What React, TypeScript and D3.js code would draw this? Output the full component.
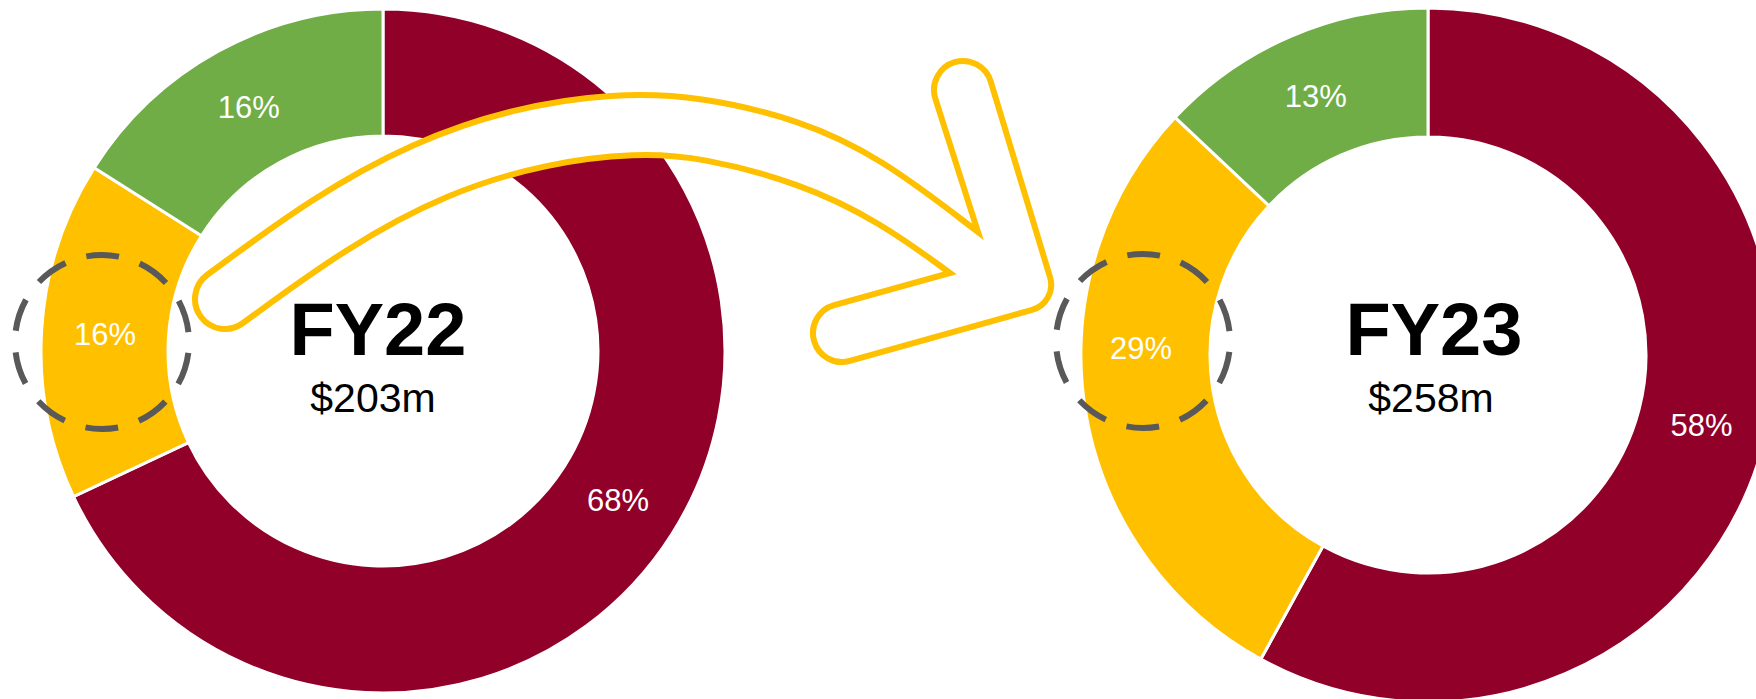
import React, { useEffect } from 'react';
import * as d3 from 'd3';

// ---------- data ----------
const segments = ['Segment 1', 'Segment 2', 'Segment 3'];
const segmentColors = ['#910029', '#FFC000', '#70AD47'];
const years = ['FY22', 'FY23'];
const totals = ['$203m', '$258m'];
const fy22Shares = [68, 16, 16];
const fy23Shares = [58, 29, 13];
const highlightedSegment = 1;

// ---------- layout ----------
const W = 1756;
const H = 699;
const FONT = '"Liberation Sans", Arial, Helvetica, sans-serif';

const donutLayout = [
  { cx: 383, cy: 351, rOuter: 342, rInner: 215, titleX: 378, totalX: 373, ring: { x: 102, y: 342 }, labelAt: null as null | { x: number; y: number } },
  { cx: 1428, cy: 355, rOuter: 347, rInner: 218, titleX: 1434, totalX: 1431, ring: { x: 1143, y: 341 }, labelAt: { x: 1141, y: 347.5 } },
];
const ringR = 87;

type Pt = [number, number];
const arrowOuter: Pt[] = [[207, 275], [313, 197], [413, 142], [513, 108], [613, 93], [700, 96], [800, 120], [880, 157], [978, 232]];
const arrowInner: Pt[] = [[243, 323], [347, 247], [447, 193], [547, 163], [637, 153], [700, 157], [800, 183], [880, 222], [950, 273]];

function norm(x: number, y: number): Pt {
  const l = Math.hypot(x, y);
  return [x / l, y / l];
}

function buildArrow(): string {
  const p = d3.path();
  const curve = (pts: Pt[]) => {
    const ctx: any = {
      moveTo: (x: number, y: number) => p.lineTo(x, y),
      lineTo: (x: number, y: number) => p.lineTo(x, y),
      bezierCurveTo: (a: number, b: number, c: number, d: number, e: number, f: number) => p.bezierCurveTo(a, b, c, d, e, f),
      closePath: () => {},
    };
    d3.line<Pt>().curve(d3.curveBasis).context(ctx)(pts);
  };
  const h = 29;
  const E1: Pt = [963, 90];
  const E2: Pt = [842, 333];
  const d1 = norm(-0.29, -0.957);
  const d2 = norm(-0.963, 0.27);
  const n1: Pt = [-d1[1], d1[0]];
  const o1: Pt = n1[0] > 0 ? n1 : [-n1[0], -n1[1]];
  const n2: Pt = [-d2[1], d2[0]];
  const o2: Pt = n2[1] > 0 ? n2 : [-n2[0], -n2[1]];
  const A1: Pt = [E1[0] - h * o1[0], E1[1] - h * o1[1]];
  const A2: Pt = [E1[0] + h * o1[0], E1[1] + h * o1[1]];
  const B2: Pt = [E2[0] + h * o2[0], E2[1] + h * o2[1]];
  const B1: Pt = [E2[0] - h * o2[0], E2[1] - h * o2[1]];
  const u: Pt = [-d1[0], -d1[1]];
  const v: Pt = [-d2[0], -d2[1]];
  const den = u[0] * v[1] - u[1] * v[0];
  const dx = B2[0] - A2[0];
  const dy = B2[1] - A2[1];
  const t = (dx * v[1] - dy * v[0]) / den;
  const T: Pt = [A2[0] + t * u[0], A2[1] + t * u[1]];

  const ang = (P: Pt, C: Pt) => Math.atan2(P[1] - C[1], P[0] - C[0]);

  p.moveTo(arrowOuter[0][0], arrowOuter[0][1]);
  curve(arrowOuter);
  p.lineTo(A1[0], A1[1]);
  p.arc(E1[0], E1[1], h, ang(A1, E1), ang(A2, E1), false);
  p.arcTo(T[0], T[1], B2[0], B2[1], 26);
  p.lineTo(B2[0], B2[1]);
  p.arc(E2[0], E2[1], h, ang(B2, E2), ang(B1, E2), false);
  const innerRev = arrowInner.slice().reverse();
  p.lineTo(innerRev[0][0], innerRev[0][1]);
  curve(innerRev);
  const s0 = arrowInner[0];
  const e0 = arrowOuter[0];
  const C: Pt = [(s0[0] + e0[0]) / 2, (s0[1] + e0[1]) / 2];
  const rc = Math.hypot(s0[0] - e0[0], s0[1] - e0[1]) / 2;
  p.arc(C[0], C[1], rc, ang(s0, C), ang(e0, C), false);
  p.closePath();
  return p.toString();
}

export default function App() {
  useEffect(() => {
    document.body.style.margin = '0';
  }, []);

  const shares = [fy22Shares, fy23Shares];
  const pie = d3.pie<number>().sort(null).value((d) => d).startAngle(0).endAngle(2 * Math.PI);

  const ringCirc = 2 * Math.PI * ringR;
  const period = ringCirc / 10;
  const dash = period * 0.6;
  const gap = period - dash;

  return (
    <svg width={W} height={H} style={{ position: 'absolute', left: 0, top: 0, display: 'block', background: '#fff' }} fontFamily={FONT}>
      {donutLayout.map((L, di) => {
        const arcs = pie(shares[di]);
        const arcGen = d3.arc<d3.PieArcDatum<number>>().innerRadius(L.rInner).outerRadius(L.rOuter);
        return (
          <g key={years[di]} transform={`translate(${L.cx},${L.cy})`}>
            {arcs.map((a, i) => (
              <path key={segments[i]} d={arcGen(a) || ''} fill={segmentColors[i]} stroke="#fff" strokeWidth={3} strokeLinejoin="miter" />
            ))}
            {arcs.map((a, i) => {
              let [x, y] = arcGen.centroid(a);
              if (i === highlightedSegment && L.labelAt) {
                x = L.labelAt.x - L.cx;
                y = L.labelAt.y - L.cy;
              }
              return (
                <text key={'l' + i} x={x} y={y + 11} textAnchor="middle" fontSize={31} fill="#fff">
                  {`${shares[di][i]}%`}
                </text>
              );
            })}
          </g>
        );
      })}
      {donutLayout.map((L, di) => (
        <circle
          key={'ring' + di}
          cx={L.ring.x}
          cy={L.ring.y}
          r={ringR}
          fill="none"
          stroke="#595959"
          strokeWidth={6}
          strokeDasharray={`${dash} ${gap}`}
          strokeDashoffset={dash + gap / 2}
        />
      ))}
      <path d={buildArrow()} fill="#fff" stroke="#FFC000" strokeWidth={6} strokeLinejoin="miter" strokeMiterlimit={10} />
      {donutLayout.map((L, di) => (
        <g key={'t' + di}>
          <text x={L.titleX} y={355} textAnchor="middle" fontSize={74} fontWeight="bold" fill="#000">
            {years[di]}
          </text>
          <text x={L.totalX} y={412} textAnchor="middle" fontSize={41} fill="#000">
            {totals[di]}
          </text>
        </g>
      ))}
    </svg>
  );
}
